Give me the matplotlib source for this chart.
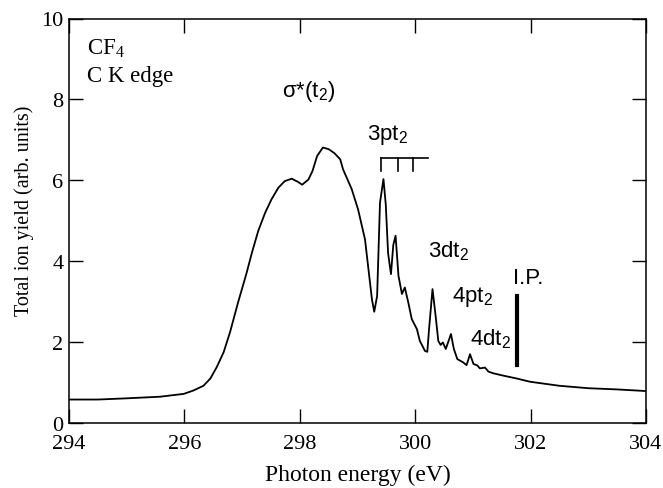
import numpy as np
import matplotlib
matplotlib.use('Agg')
import matplotlib.pyplot as plt

plt.rcParams['mathtext.fontset'] = 'custom'
plt.rcParams['mathtext.rm'] = 'Liberation Serif'
plt.rcParams['mathtext.sf'] = 'Liberation Sans'

# spectrum
energy = [294.0, 294.5, 295.0, 295.58, 295.99, 296.15, 296.33, 296.45, 296.56, 296.68,
          296.79, 296.93, 297.08, 297.17, 297.28, 297.40, 297.51, 297.63, 297.74, 297.86,
          297.97, 298.04, 298.15, 298.22, 298.3, 298.4, 298.5, 298.6, 298.7, 298.75,
          298.90, 299.01, 299.13, 299.19, 299.25, 299.29, 299.34, 299.39, 299.45, 299.49,
          299.53, 299.58, 299.62, 299.66, 299.71, 299.77, 299.82, 299.88, 299.94, 300.03,
          300.08, 300.17, 300.21, 300.24, 300.30, 300.36, 300.40, 300.44, 300.48, 300.53,
          300.62, 300.67, 300.73, 300.83, 300.89, 300.95, 301.01, 301.08, 301.12, 301.21,
          301.27, 301.35, 301.53, 301.76, 301.99, 302.5, 303.0, 303.5, 304.0]
yield_ = [0.58, 0.58, 0.61, 0.65, 0.72, 0.80, 0.92, 1.10, 1.38, 1.75,
          2.24, 2.98, 3.72, 4.21, 4.75, 5.20, 5.53, 5.82, 5.98, 6.04,
          5.96, 5.89, 6.02, 6.23, 6.60, 6.81, 6.77, 6.67, 6.52, 6.27,
          5.78, 5.28, 4.54, 3.80, 3.06, 2.75, 3.14, 5.45, 6.03, 5.40,
          4.20, 3.68, 4.40, 4.63, 3.64, 3.19, 3.35, 2.98, 2.57, 2.32,
          2.03, 1.78, 1.76, 2.32, 3.31, 2.57, 2.03, 1.93, 1.99, 1.83,
          2.20, 1.83, 1.58, 1.50, 1.43, 1.70, 1.46, 1.42, 1.35, 1.37,
          1.27, 1.23, 1.17, 1.10, 1.02, 0.92, 0.86, 0.83, 0.79]

# 3pt2 comb and ionisation potential
comb_x = [299.40, 299.70, 299.97]
comb_end = 300.23
comb_top = 6.54
comb_bot = 6.23
ip_x = 301.77
ip_range = [1.43, 3.13]

serif = ['Liberation Serif', 'DejaVu Serif']
sans = ['Liberation Sans', 'DejaVu Sans']

fig = plt.figure(figsize=(6.63, 4.89), dpi=100)
ax = fig.add_axes([69/663, 1 - 424/489, (646-69)/663, (424-19.5)/489])

ax.plot(energy, yield_, color='black', lw=1.3)

ax.plot([comb_x[0], comb_end], [comb_top, comb_top], color='black', lw=1.2)
for cx in comb_x:
    ax.plot([cx, cx], [comb_bot, comb_top], color='black', lw=1.2)
ax.plot([ip_x, ip_x], ip_range, color='black', lw=3)

ax.set_xlim(294, 304)
ax.set_ylim(0, 10)
ax.set_xticks(np.arange(294, 305, 2))
ax.set_yticks(np.arange(0, 11, 2))
ax.tick_params(direction='in', length=10, width=1, top=True, right=True,
               labelsize=16, pad=4)
ax.tick_params(axis='x', pad=8)
for lab in ax.get_xticklabels() + ax.get_yticklabels():
    lab.set_family(serif)
for s in ax.spines.values():
    s.set_linewidth(1.1)

ax.set_xlabel('Photon energy (eV)', family=serif, fontsize=17)
ax.set_ylabel('Total ion yield (arb. units)', family=serif, fontsize=14.5)
ax.xaxis.set_label_coords(0.5, -0.1)
ax.yaxis.set_label_coords(-0.06, 0.527)

ax.text(294.31, 9.15, r'CF$_\mathrm{4}$', family=serif, fontsize=16.5)
ax.text(294.31, 8.45, 'C K edge', family=serif, fontsize=16.5)

ax.text(297.70, 8.08, r'σ*($\mathsf{t_2}$)', family=sans, fontsize=16)
ax.text(299.17, 7.03, r'$\mathsf{3pt_2}$', family=sans, fontsize=16)
ax.text(300.23, 4.13, r'$\mathsf{3dt_2}$', family=sans, fontsize=16)
ax.text(300.63, 3.02, r'$\mathsf{4pt_2}$', family=sans, fontsize=16)
ax.text(300.95, 1.95, r'$\mathsf{4dt_2}$', family=sans, fontsize=16)
ax.text(301.70, 3.46, 'I.P.', family=sans, fontsize=16)

fig.savefig('out.png', dpi=100)
